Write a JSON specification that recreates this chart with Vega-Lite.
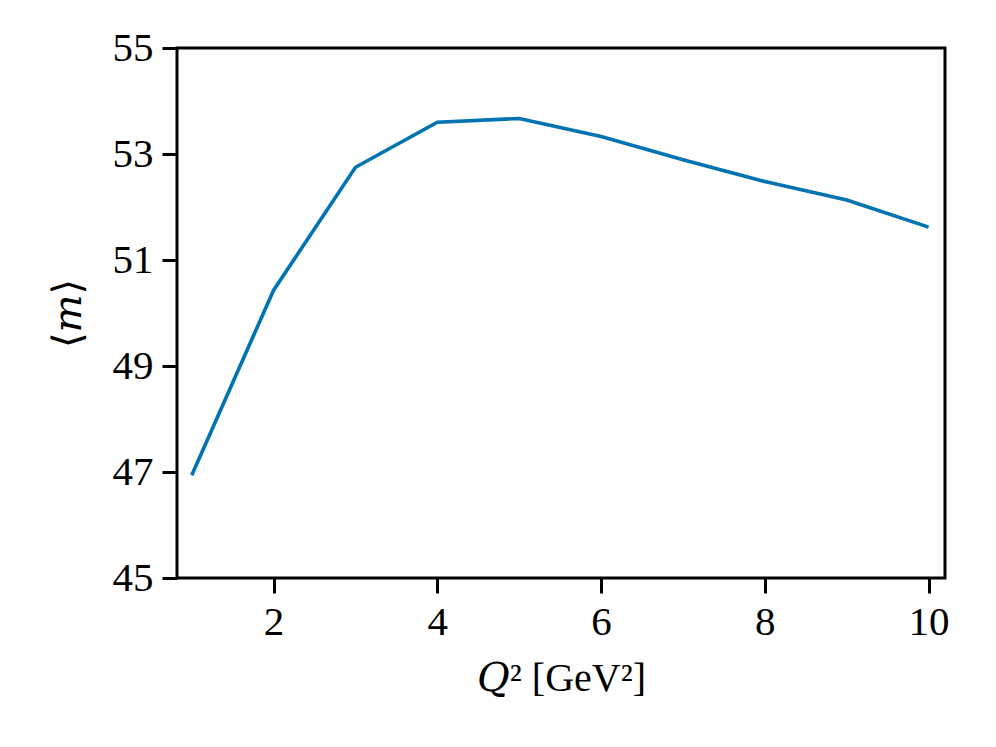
{
  "$schema": "https://vega.github.io/schema/vega-lite/v6.json",
  "autosize": "none",
  "width": 768,
  "height": 530,
  "padding": {"left": 177, "top": 48, "right": 51, "bottom": 169},
  "background": "white",
  "data": {
    "values": [
      {"q2": 1, "m": 46.94},
      {"q2": 2, "m": 50.43},
      {"q2": 3, "m": 52.75},
      {"q2": 4, "m": 53.60},
      {"q2": 5, "m": 53.67},
      {"q2": 6, "m": 53.33},
      {"q2": 7, "m": 52.89},
      {"q2": 8, "m": 52.48},
      {"q2": 9, "m": 52.13},
      {"q2": 10, "m": 51.62}
    ]
  },
  "mark": {"type": "line", "color": "#0173B2", "strokeWidth": 3.6, "clip": true},
  "encoding": {
    "x": {
      "field": "q2",
      "type": "quantitative",
      "scale": {"domain": [0.82, 10.2], "nice": false, "zero": false},
      "axis": {"values": [2, 4, 6, 8, 10], "title": "𝑄² [GeV²]", "titlePadding": 16}
    },
    "y": {
      "field": "m",
      "type": "quantitative",
      "scale": {"domain": [45, 55], "nice": false, "zero": false},
      "axis": {"values": [45, 47, 49, 51, 53, 55], "title": "⟨𝑚⟩", "titlePadding": 24}
    }
  },
  "config": {
    "view": {"stroke": "black", "strokeWidth": 3},
    "axis": {
      "domain": false,
      "grid": false,
      "ticks": true,
      "tickColor": "black",
      "tickWidth": 3,
      "tickSize": 15,
      "labelPadding": 9,
      "labelFont": "Liberation Serif, DejaVu Serif, serif",
      "labelFontSize": 41,
      "labelColor": "black",
      "titleFont": "Liberation Serif, DejaVu Serif, serif",
      "titleFontSize": 40,
      "titleFontWeight": "normal",
      "titleColor": "black"
    }
  }
}
